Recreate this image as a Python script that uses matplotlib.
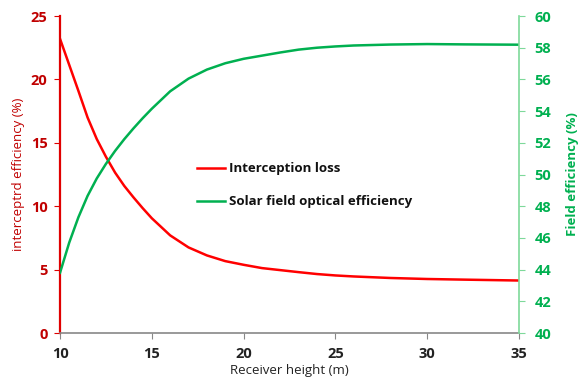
import matplotlib.pyplot as plt

# data
height = [10, 10.5, 11, 11.5, 12, 12.5, 13, 13.5, 14, 14.5, 15, 16, 17, 18, 19, 20,
          21, 22, 23, 24, 25, 26, 28, 30, 32, 35]
interception_loss = [23.2, 21.15, 19.1, 17.0, 15.3, 13.9, 12.65, 11.6, 10.7, 9.85, 9.05,
                     7.7, 6.75, 6.12, 5.67, 5.38, 5.12, 4.96, 4.8, 4.65, 4.54, 4.46,
                     4.34, 4.26, 4.21, 4.14]
field_efficiency = [43.8, 45.7, 47.3, 48.65, 49.75, 50.67, 51.49, 52.23, 52.91, 53.55, 54.15,
                    55.25, 56.05, 56.62, 57.02, 57.3, 57.5, 57.7, 57.88, 58.0, 58.08,
                    58.14, 58.2, 58.23, 58.21, 58.19]

plt.rcParams['font.family'] = ['Open Sans', 'DejaVu Sans']

dark_red = '#C00000'
green = '#00B050'

fig = plt.figure(figsize=(5.85, 3.83), dpi=100)
ax = fig.add_axes([0.1026, 0.1305, 0.7846, 0.8277])
ax2 = ax.twinx()

line1, = ax.plot(height, interception_loss, color='#FF0000', lw=1.8,
                 solid_joinstyle='round', label='Interception loss')
line2, = ax2.plot(height, field_efficiency, color=green, lw=1.8,
                  solid_joinstyle='round', label='Solar field optical efficiency')

ax.set_xlim(10, 35)
ax.set_ylim(0, 25)
ax2.set_ylim(40, 60)
ax.set_xticks(range(10, 36, 5))
ax.set_yticks(range(0, 26, 5))
ax2.set_yticks(range(40, 61, 2))

# spines
for a in (ax, ax2):
    a.spines['top'].set_visible(False)
ax.spines['left'].set_color('#E00000')
ax.spines['left'].set_linewidth(1.6)
ax2.spines['left'].set_visible(False)
ax2.spines['right'].set_color('#7ED99A')
ax2.spines['right'].set_linewidth(1.2)
ax.spines['right'].set_visible(False)
ax.spines['bottom'].set_color('#888888')
ax.spines['bottom'].set_linewidth(1.2)
ax2.spines['bottom'].set_visible(False)

ax.tick_params(axis='x', direction='out', length=4, color='#888888', labelsize=10.5,
               labelcolor='#222222', pad=6)
ax.tick_params(axis='y', direction='out', length=4, color='#E00000', labelsize=10.5,
               labelcolor=dark_red, pad=5)
ax2.tick_params(axis='y', direction='out', length=4, color='#7ED99A', labelsize=10.5,
                labelcolor=green, pad=7)
for lab in ax.get_xticklabels() + ax.get_yticklabels() + ax2.get_yticklabels():
    lab.set_fontweight('bold')

ax.set_xlabel('Receiver height (m)', fontsize=9.5, color='#222222', labelpad=2)
ax.set_ylabel('interceptrd efficiency (%)', fontsize=9.5, color=dark_red, labelpad=4)
ax2.set_ylabel('Field efficiency (%)', fontsize=9.5, color=green, fontweight='bold',
               labelpad=11)

leg = ax.legend(handles=[line1, line2], loc='upper left', bbox_to_anchor=(0.2985, 0.538),
                frameon=False, fontsize=9.5, handlelength=2.1, handletextpad=0.3,
                labelspacing=1.5, borderpad=0, borderaxespad=0)
for t in leg.get_texts():
    t.set_fontweight('bold')
    t.set_color('#111111')

fig.savefig('out.png', dpi=100)
